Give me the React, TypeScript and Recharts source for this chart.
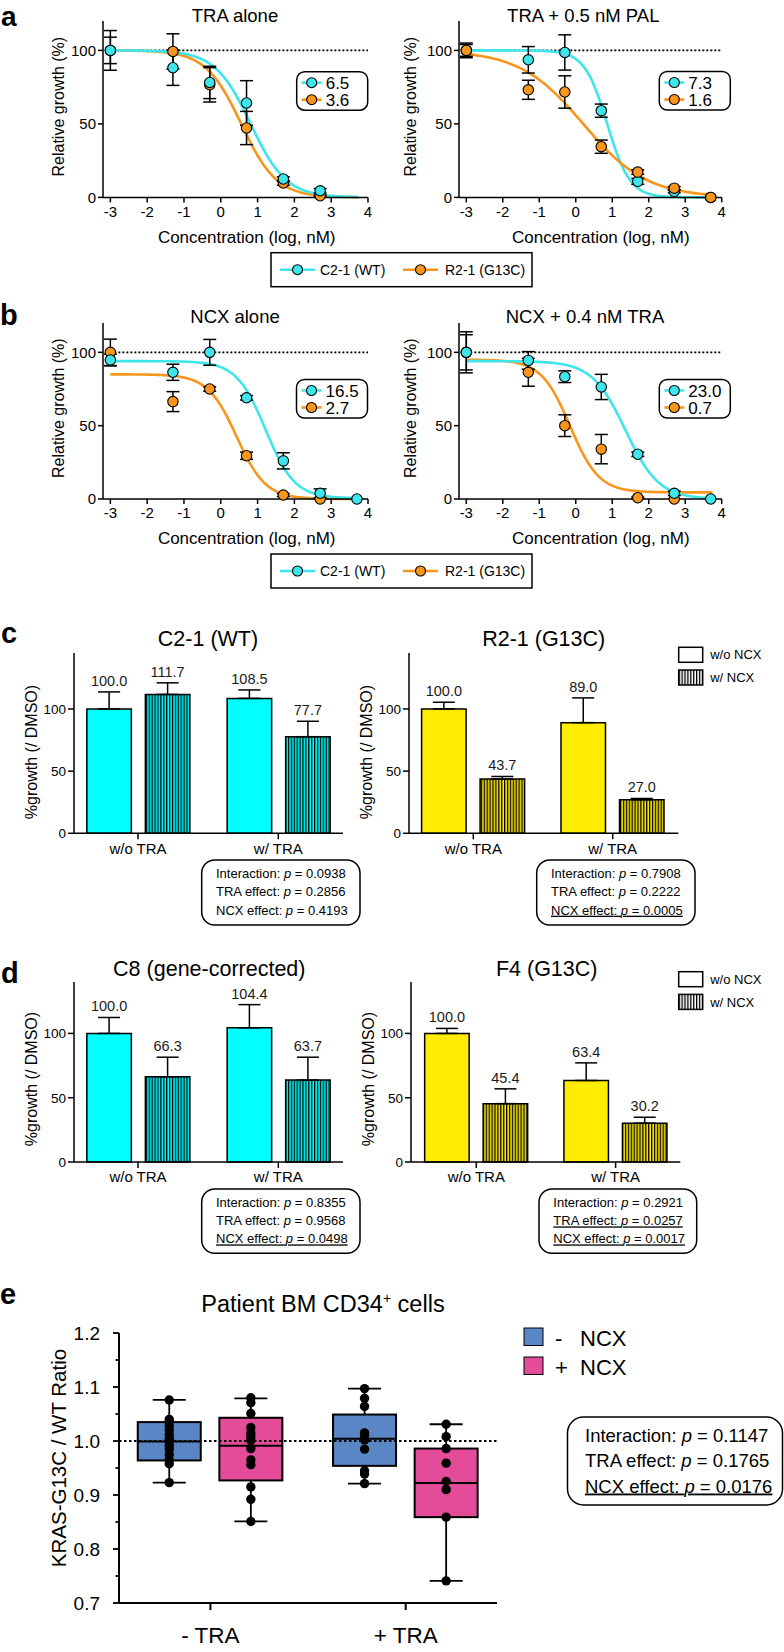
import React from 'react';
import {
  ComposedChart,
  Line,
  Scatter,
  Bar,
  XAxis,
  YAxis,
  ReferenceLine,
  ErrorBar,
  LabelList,
} from 'recharts';

const FONT = '"Liberation Sans", Arial, Helvetica, sans-serif';

// colours
const WT_COLOR = '#3EE6EC';
const MUT_COLOR = '#F7951D';
const BAR_CYAN = '#00FFFF';
const BAR_YELLOW = '#FFEC00';
const BOX_BLUE = '#5A86C5';
const BOX_PINK = '#E44C9A';

// ---------- panels a / b : dose-response ----------
const doseLog = [-3, -1.3, -0.3, 0.7, 1.7, 2.7, 3.7];
const doseTicks = [-3, -2, -1, 0, 1, 2, 3, 4];
const growthTicks = [0, 50, 100];
const seriesNames = ['C2-1 (WT)', 'R2-1 (G13C)'];

const traAloneWt = [100, 88.2, 78.2, 64.2, 12.5, 4.5, null];
const traAloneWtSd = [13.5, 12, 11, 15.2, 1.5, 1.5, null];
const traAloneMut = [100, 99.3, 76.6, 47.2, 9.8, 1.1, null];
const traAloneMutSd = [9, 12, 11.7, 11.3, 1.5, 0.5, null];

const traPalWt = [100, 93.6, 98.6, 59, 10.9, 4.1, 0];
const traPalWtSd = [5, 9, 12, 4.5, 2, 1, 0];
const traPalMut = [100, 73.2, 71.7, 34.5, 17.2, 6.3, 0];
const traPalMutSd = [4, 6.5, 11, 4.5, 1.5, 1, 0];

const ncxAloneWt = [94.8, 86.4, 100, 69, 26, 3.9, 0];
const ncxAloneWtSd = [4, 5.5, 8.8, 1.5, 5.5, 3, 0];
const ncxAloneMut = [100, 66.4, 75, 29.5, 2.7, 0, null];
const ncxAloneMutSd = [9, 6.8, 1.5, 2.5, 1, 0, null];

const ncxTraWt = [100, 94.5, 83.4, 76.4, 30.5, 3.9, 0];
const ncxTraWtSd = [14, 6, 4, 8.6, 1.5, 1.5, 0];
const ncxTraMut = [100, 86.4, 50, 34, 0.9, 0, null];
const ncxTraMutSd = [12, 9.5, 7.4, 10, 0.5, 0, null];

// four-parameter logistic fits: [IC50 (nM), top, bottom, Hill slope]
const traAloneWtFit = [6.5, 100, 0, -0.9];
const traAloneMutFit = [3.6, 100, 0, -0.9];
const traPalWtFit = [7.3, 100, 0, -1.4];
const traPalMutFit = [1.6, 100, 0, -0.5];
const ncxAloneWtFit = [16.5, 94, 0.5, -1.1];
const ncxAloneMutFit = [2.7, 85, 0, -1.1];
const ncxTraWtFit = [23.0, 94, 0, -0.95];
const ncxTraMutFit = [0.7, 95, 4.5, -1.1];

// ---------- panels c / d : bar charts ----------
const treatGroups = ['w/o TRA', 'w/ TRA'];
const c21NoNcx = [100.0, 108.5];
const c21NoNcxSd = [13.7, 6.8];
const c21Ncx = [111.7, 77.7];
const c21NcxSd = [9.3, 12.4];
const r21NoNcx = [100.0, 89.0];
const r21NoNcxSd = [5.4, 19.9];
const r21Ncx = [43.7, 27.0];
const r21NcxSd = [2.0, 1.0];
const c8NoNcx = [100.0, 104.4];
const c8NoNcxSd = [12.4, 18.0];
const c8Ncx = [66.3, 63.7];
const c8NcxSd = [15.2, 17.8];
const f4NoNcx = [100.0, 63.4];
const f4NoNcxSd = [3.9, 13.7];
const f4Ncx = [45.4, 30.2];
const f4NcxSd = [11.5, 4.6];

const statNames = ['Interaction', 'TRA effect', 'NCX effect'];
const c21Stats = ['0.0938', '0.2856', '0.4193'];
const r21Stats = ['0.7908', '0.2222', '0.0005'];
const c8Stats = ['0.8355', '0.9568', '0.0498'];
const f4Stats = ['0.2921', '0.0257', '0.0017'];
const eStats = ['0.1147', '0.1765', '0.0176'];

// ---------- panel e : box plots ----------
const boxGroups = ['- TRA', '+ TRA'];
const ratioTicks = [0.7, 0.75, 0.8, 0.85, 0.9, 0.95, 1.0, 1.05, 1.1, 1.15, 1.2];
// [min, Q1, median, Q3, max]
const noNcxSummary = [
  [0.923, 0.964, 0.999, 1.035, 1.076],
  [0.921, 0.954, 1.004, 1.049, 1.097],
];
const ncxSummary = [
  [0.851, 0.927, 0.991, 1.043, 1.079],
  [0.741, 0.859, 0.922, 0.986, 1.031],
];
const noNcxPoints = [
  [1.076, 1.04, 1.035, 1.028, 1.02, 1.012, 1.005, 1.0, 0.992, 0.985, 0.975, 0.965, 0.958, 0.923],
  [1.097, 1.079, 1.064, 1.015, 1.011, 1.002, 0.985, 0.945, 0.939, 0.921],
];
const ncxPoints = [
  [1.08, 1.071, 1.051, 1.025, 1.015, 1.008, 1.001, 0.986, 0.965, 0.956, 0.915, 0.892, 0.851],
  [1.031, 1.008, 0.986, 0.959, 0.925, 0.91, 0.859, 0.741],
];

// ---------- helpers ----------
const toPoints = (mean: (number | null)[], sd: (number | null)[]) =>
  doseLog
    .map((x, i) => (mean[i] == null ? null : { x, y: mean[i] as number, sd: (sd[i] ?? 0) as number }))
    .filter(Boolean) as { x: number; y: number; sd: number }[];

// logistic model evaluated along the plotted concentration range
const fitCurve = (fit: number[]) => {
  const [ic50, top, bottom, hill] = fit;
  const logIc50 = Math.log10(ic50);
  const out: { x: number; y: number }[] = [];
  for (let k = 0; k <= 135; k++) {
    const x = -3 + k * 0.05;
    out.push({ x, y: bottom + (top - bottom) / (1 + Math.pow(10, (logIc50 - x) * hill)) });
  }
  return out;
};

const axisStroke = { stroke: '#000', strokeWidth: 1.5 };

function DoseChart({ box, wt, wtSd, mut, mutSd, wtFit, mutFit, mutOnTop }: any) {
  const YW = 50, MT = 6, MR = 14, XH = 32;
  const W = box.x1 - box.x0 + YW + MR;
  const H = box.y1 - box.y0 + MT + XH;
  const dot = (color: string) => (p: any) => (
    <circle cx={p.cx} cy={p.cy} r={5.2} fill={color} stroke="#000" strokeWidth={1.1} />
  );
  const wtScatter = (
    <Scatter key="wt" name={seriesNames[0]} data={toPoints(wt, wtSd)} dataKey="y" shape={dot(WT_COLOR)} isAnimationActive={false}>
      <ErrorBar dataKey="sd" direction="y" width={6.5} stroke="#000" strokeWidth={1.5} />
    </Scatter>
  );
  const mutScatter = (
    <Scatter key="mut" name={seriesNames[1]} data={toPoints(mut, mutSd)} dataKey="y" shape={dot(MUT_COLOR)} isAnimationActive={false}>
      <ErrorBar dataKey="sd" direction="y" width={6.5} stroke="#000" strokeWidth={1.5} />
    </Scatter>
  );
  return (
    <div style={{ position: 'absolute', left: box.x0 - YW, top: box.y0 - MT }}>
      <ComposedChart width={W} height={H} margin={{ top: MT, right: MR, left: 0, bottom: 0 }}>
        <XAxis
          type="number"
          dataKey="x"
          domain={[-3.2, 4]}
          ticks={doseTicks}
          interval={0}
          height={XH}
          tickSize={5}
          tickMargin={3.5}
          axisLine={axisStroke}
          tickLine={axisStroke}
          tick={{ fontSize: 15, fill: '#000', fontFamily: FONT }}
        />
        <YAxis
          type="number"
          dataKey="y"
          domain={[0, 120]}
          ticks={growthTicks}
          interval={0}
          width={YW}
          tickSize={5}
          tickMargin={2}
          axisLine={axisStroke}
          tickLine={axisStroke}
          tick={{ fontSize: 15, fill: '#000', fontFamily: FONT }}
        />
        <ReferenceLine
          segment={[{ x: -3, y: 100 }, { x: 4, y: 100 }]}
          stroke="#000"
          strokeWidth={1.6}
          strokeDasharray="2 2"
        />
        {mutOnTop ? (
          <Line data={fitCurve(wtFit)} dataKey="y" type="linear" stroke={WT_COLOR} strokeWidth={2.6} dot={false} isAnimationActive={false} />
        ) : (
          <Line data={fitCurve(mutFit)} dataKey="y" type="linear" stroke={MUT_COLOR} strokeWidth={2.6} dot={false} isAnimationActive={false} />
        )}
        {mutOnTop ? (
          <Line data={fitCurve(mutFit)} dataKey="y" type="linear" stroke={MUT_COLOR} strokeWidth={2.6} dot={false} isAnimationActive={false} />
        ) : (
          <Line data={fitCurve(wtFit)} dataKey="y" type="linear" stroke={WT_COLOR} strokeWidth={2.6} dot={false} isAnimationActive={false} />
        )}
        {mutOnTop ? wtScatter : mutScatter}
        {mutOnTop ? mutScatter : wtScatter}
      </ComposedChart>
    </div>
  );
}

const valueLabel = (sds: number[]) => (p: any) => {
  const vb = p.viewBox || p;
  const x = vb.x ?? p.x;
  const y = vb.y ?? p.y;
  const w = vb.width ?? p.width;
  const h = vb.height ?? p.height;
  const v = Number(p.value);
  const top = Math.min(y, y + h);
  const pxPer = Math.abs(h) / v;
  const capY = top - sds[p.index] * pxPer;
  return (
    <text x={x + w / 2} y={capY - 6} textAnchor="middle" fontSize={14.5} fontFamily={FONT} fill="#1a1a1a">
      {v.toFixed(1)}
    </text>
  );
};

function BarPanel({ box, pad, yMax, noNcx, noNcxSd, ncx, ncxSd, solid, hatch }: any) {
  const YW = 50, MT = 6, MR = 10, XH = 40;
  const W = box.x1 - box.x0 + YW + MR;
  const H = box.y1 - box.y0 + MT + XH;
  const rows = treatGroups.map((g, i) => ({
    group: g,
    noNcx: noNcx[i],
    ncx: ncx[i],
    noNcxErr: [0, noNcxSd[i]],
    ncxErr: [0, ncxSd[i]],
  }));
  return (
    <div style={{ position: 'absolute', left: box.x0 - YW, top: box.y0 - MT }}>
      <ComposedChart width={W} height={H} data={rows} margin={{ top: MT, right: MR, left: 0, bottom: 0 }} barGap={14} barSize={44.5}>
        <XAxis
          dataKey="group"
          type="category"
          padding={pad}
          height={XH}
          tickSize={6}
          tickMargin={3.7}
          axisLine={axisStroke}
          tickLine={axisStroke}
          tick={{ fontSize: 15, fill: '#000', fontFamily: FONT }}
        />
        <YAxis
          type="number"
          domain={[0, yMax]}
          ticks={growthTicks}
          interval={0}
          width={YW}
          tickSize={6}
          tickMargin={2}
          axisLine={axisStroke}
          tickLine={axisStroke}
          tick={{ fontSize: 13.5, fill: '#000', fontFamily: FONT }}
        />
        <Bar dataKey="noNcx" fill={solid} stroke="#000" strokeWidth={1.5} barSize={44.5} isAnimationActive={false}>
          <ErrorBar dataKey="noNcxErr" direction="y" width={11} stroke="#000" strokeWidth={1.5} />
          <LabelList dataKey="noNcx" content={valueLabel(noNcxSd)} />
        </Bar>
        <Bar dataKey="ncx" fill={`url(#${hatch})`} stroke="#000" strokeWidth={1.5} barSize={44.5} isAnimationActive={false}>
          <ErrorBar dataKey="ncxErr" direction="y" width={11} stroke="#000" strokeWidth={1.5} />
          <LabelList dataKey="ncx" content={valueLabel(ncxSd)} />
        </Bar>
      </ComposedChart>
    </div>
  );
}

const makeBoxShape = (fill: string, summaryKey: string, pointsKey: string) => (p: any) => {
  const { x, y, width, height, payload } = p;
  const [min, q1, med, q3, max] = payload[summaryKey];
  const top = Math.min(y, y + height);
  const bot = Math.max(y, y + height);
  const k = (bot - top) / (max - min);
  const py = (v: number) => bot - (v - min) * k;
  const cx = x + width / 2;
  return (
    <g>
      <line x1={cx} x2={cx} y1={py(max)} y2={py(min)} stroke="#000" strokeWidth={1.8} />
      <line x1={cx - 16.5} x2={cx + 16.5} y1={py(max)} y2={py(max)} stroke="#000" strokeWidth={1.8} />
      <line x1={cx - 16.5} x2={cx + 16.5} y1={py(min)} y2={py(min)} stroke="#000" strokeWidth={1.8} />
      <rect x={x} y={py(q3)} width={width} height={py(q1) - py(q3)} fill={fill} stroke="#000" strokeWidth={2} />
      <line x1={x} x2={x + width} y1={py(med)} y2={py(med)} stroke="#000" strokeWidth={2} />
      {payload[pointsKey].map((v: number, i: number) => (
        <circle key={i} cx={cx} cy={py(v)} r={4.7} fill="#000" />
      ))}
    </g>
  );
};

const RatioTick = (p: any) => {
  const v = p.payload.value;
  const major = Math.abs(v * 10 - Math.round(v * 10)) < 1e-6;
  const axisX = p.x + 10;
  return (
    <g>
      <line x1={axisX - (major ? 6 : 3.5)} x2={axisX} y1={p.y} y2={p.y} stroke="#000" strokeWidth={1.8} />
      {major && (
        <text x={axisX - 19} y={p.y} dy="0.36em" textAnchor="end" fontSize={19} fontFamily={FONT} fill="#000">
          {v.toFixed(1)}
        </text>
      )}
    </g>
  );
};

function BoxPanel() {
  const box = { x0: 119.3, x1: 497.3, y0: 1332.7, y1: 1602.7 };
  const YW = 60, MT = 22, MR = 10, XH = 50;
  const W = box.x1 - box.x0 + YW + MR;
  const H = box.y1 - box.y0 + MT + XH;
  const rows = boxGroups.map((g, i) => ({
    group: g,
    noNcxRange: [noNcxSummary[i][0], noNcxSummary[i][4]],
    ncxRange: [ncxSummary[i][0], ncxSummary[i][4]],
    noNcxSummary: noNcxSummary[i],
    ncxSummary: ncxSummary[i],
    noNcxPoints: noNcxPoints[i],
    ncxPoints: ncxPoints[i],
  }));
  const ax = { stroke: '#000', strokeWidth: 2 };
  return (
    <div style={{ position: 'absolute', left: box.x0 - YW, top: box.y0 - MT }}>
      <ComposedChart width={W} height={H} data={rows} margin={{ top: MT, right: MR, left: 0, bottom: 0 }} barGap={18.6} barSize={63}>
        <XAxis
          dataKey="group"
          type="category"
          padding={{ left: -6.25, right: -6.35 }}
          height={XH}
          tickSize={7}
          tickMargin={17}
          axisLine={ax}
          tickLine={ax}
          tick={{ fontSize: 22.5, fill: '#000', fontFamily: FONT }}
        />
        <YAxis
          type="number"
          domain={[0.7, 1.2]}
          ticks={ratioTicks}
          interval={0}
          width={YW}
          tickSize={6}
          tickMargin={4}
          axisLine={ax}
          tickLine={{ stroke: 'none' }}
          tick={<RatioTick />}
        />
        <ReferenceLine y={1} stroke="#000" strokeWidth={2} strokeDasharray="2.5 2.5" />
        <Bar dataKey="noNcxRange" barSize={63} shape={makeBoxShape(BOX_BLUE, 'noNcxSummary', 'noNcxPoints')} isAnimationActive={false} />
        <Bar dataKey="ncxRange" barSize={63} shape={makeBoxShape(BOX_PINK, 'ncxSummary', 'ncxPoints')} isAnimationActive={false} />
      </ComposedChart>
    </div>
  );
}

// ---------- annotation layer ----------
const Txt = ({ x, y, size, anchor = 'start', weight, children, ...rest }: any) => (
  <text x={x} y={y} fontSize={size} textAnchor={anchor} fontWeight={weight} fontFamily={FONT} fill="#000" {...rest}>
    {children}
  </text>
);

const VLabel = ({ x, y, size, children }: any) => (
  <text
    transform={`translate(${x},${y}) rotate(-90)`}
    textAnchor="middle"
    dominantBaseline="central"
    fontSize={size}
    fontFamily={FONT}
    fill="#000"
  >
    {children}
  </text>
);

function FitLegend({ x, y, wtFit, mutFit }: any) {
  return (
    <g>
      <rect x={x} y={y} width={71} height={38.5} rx={8} fill="#fff" stroke="#000" strokeWidth={1.5} />
      {[
        [WT_COLOR, wtFit],
        [MUT_COLOR, mutFit],
      ].map(([c, fit]: any, i) => {
        const ry = y + 11 + i * 17;
        return (
          <g key={i}>
            <line x1={x + 5} x2={x + 25} y1={ry} y2={ry} stroke={c} strokeWidth={2.6} />
            <circle cx={x + 15} cy={ry} r={5} fill={c} stroke="#000" strokeWidth={1.1} />
            <Txt x={x + 29} y={ry} size={17} dy="0.36em">
              {fit[0].toFixed(1)}
            </Txt>
          </g>
        );
      })}
    </g>
  );
}

function SeriesLegend({ y }: any) {
  const cy = y + 17;
  return (
    <g>
      <rect x={271} y={y} width={261} height={34} fill="#fff" stroke="#000" strokeWidth={1.5} />
      <line x1={280} x2={315} y1={cy} y2={cy} stroke={WT_COLOR} strokeWidth={2.6} />
      <circle cx={297.5} cy={cy} r={5} fill={WT_COLOR} stroke="#000" strokeWidth={1.1} />
      <Txt x={320} y={cy} size={14} dy="0.36em">{seriesNames[0]}</Txt>
      <line x1={403} x2={438} y1={cy} y2={cy} stroke={MUT_COLOR} strokeWidth={2.6} />
      <circle cx={420.5} cy={cy} r={5} fill={MUT_COLOR} stroke="#000" strokeWidth={1.1} />
      <Txt x={445} y={cy} size={14} dy="0.36em">{seriesNames[1]}</Txt>
    </g>
  );
}

function StatsBox({ x, y, w, h, r, pvals, size, tx, rows }: any) {
  return (
    <g>
      <rect x={x} y={y} width={w} height={h} rx={r} fill="#fff" stroke="#000" strokeWidth={1.5} />
      {statNames.map((name, i) => (
        <Txt
          key={i}
          x={tx}
          y={rows[i]}
          size={size}
          textDecoration={parseFloat(pvals[i]) < 0.05 ? 'underline' : undefined}
        >
          {name}: <tspan fontStyle="italic">p</tspan> = {pvals[i]}
        </Txt>
      ))}
    </g>
  );
}

function NcxKey({ x, y }: any) {
  return (
    <g>
      <rect x={x} y={y} width={24} height={15} fill="#fff" stroke="#000" strokeWidth={1.5} />
      <Txt x={x + 31.5} y={y + 7.5} size={13} dy="0.36em">w/o NCX</Txt>
      <rect x={x} y={y + 22.7} width={24} height={15} fill="url(#hatchBW)" stroke="#000" strokeWidth={1.5} />
      <Txt x={x + 31.5} y={y + 30.2} size={13} dy="0.36em">w/ NCX</Txt>
    </g>
  );
}

function Annotations() {
  return (
    <svg width={784} height={1652} style={{ position: 'absolute', left: 0, top: 0, pointerEvents: 'none' }}>
      {/* panel letters */}
      <Txt x={1} y={26} size={28} weight="bold">a</Txt>
      <Txt x={0} y={325} size={29} weight="bold">b</Txt>
      <Txt x={1} y={643.3} size={29} weight="bold">c</Txt>
      <Txt x={1} y={982.7} size={29} weight="bold">d</Txt>
      <Txt x={0} y={1304} size={29} weight="bold">e</Txt>

      {/* a */}
      <Txt x={235} y={21.7} size={18.5} anchor="middle">TRA alone</Txt>
      <Txt x={583.3} y={21.7} size={18.5} anchor="middle">TRA + 0.5 nM PAL</Txt>
      <VLabel x={58.3} y={106.7} size={16}>Relative growth (%)</VLabel>
      <VLabel x={410} y={106.7} size={16}>Relative growth (%)</VLabel>
      <Txt x={246.7} y={237} size={17} anchor="middle" dominantBaseline="central">Concentration (log, nM)</Txt>
      <Txt x={600.8} y={237} size={17} anchor="middle" dominantBaseline="central">Concentration (log, nM)</Txt>
      <FitLegend x={296.7} y={71.7} wtFit={traAloneWtFit} mutFit={traAloneMutFit} />
      <FitLegend x={659.3} y={71.5} wtFit={traPalWtFit} mutFit={traPalMutFit} />
      <SeriesLegend y={252.7} />

      {/* b */}
      <Txt x={235} y={323.3} size={18.5} anchor="middle">NCX alone</Txt>
      <Txt x={585} y={323.3} size={18.5} anchor="middle">NCX + 0.4 nM TRA</Txt>
      <VLabel x={58.3} y={408.2} size={16}>Relative growth (%)</VLabel>
      <VLabel x={410} y={408.2} size={16}>Relative growth (%)</VLabel>
      <Txt x={246.7} y={538.3} size={17} anchor="middle" dominantBaseline="central">Concentration (log, nM)</Txt>
      <Txt x={600.8} y={538.3} size={17} anchor="middle" dominantBaseline="central">Concentration (log, nM)</Txt>
      <FitLegend x={296.5} y={379.5} wtFit={ncxAloneWtFit} mutFit={ncxAloneMutFit} />
      <FitLegend x={659.3} y={379.5} wtFit={ncxTraWtFit} mutFit={ncxTraMutFit} />
      <SeriesLegend y={554} />

      {/* c */}
      <Txt x={208} y={646} size={21.5} anchor="middle">C2-1 (WT)</Txt>
      <Txt x={543.7} y={646} size={21.5} anchor="middle">R2-1 (G13C)</Txt>
      <VLabel x={31.7} y={752} size={16}>%growth (/ DMSO)</VLabel>
      <VLabel x={366.7} y={752} size={16}>%growth (/ DMSO)</VLabel>
      <NcxKey x={678.7} y={647.3} />
      <StatsBox x={201.7} y={860} w={158.3} h={65} r={13} pvals={c21Stats} size={13} tx={216} rows={[878, 896.4, 914.7]} />
      <StatsBox x={536.7} y={860} w={158.3} h={65} r={13} pvals={r21Stats} size={13} tx={551} rows={[878, 896.4, 914.7]} />

      {/* d */}
      <Txt x={209.3} y={976} size={21.5} anchor="middle">C8 (gene-corrected)</Txt>
      <Txt x={546.7} y={976} size={21.5} anchor="middle">F4 (G13C)</Txt>
      <VLabel x={31.7} y={1079} size={16}>%growth (/ DMSO)</VLabel>
      <VLabel x={368.3} y={1079} size={16}>%growth (/ DMSO)</VLabel>
      <NcxKey x={678.7} y={971.7} />
      <StatsBox x={201.7} y={1189} w={158.3} h={64.3} r={13} pvals={c8Stats} size={13} tx={216} rows={[1207, 1225.4, 1243.4]} />
      <StatsBox x={539} y={1189} w={157.7} h={64.3} r={13} pvals={f4Stats} size={13} tx={553.3} rows={[1207, 1225.4, 1243.4]} />

      {/* e */}
      <Txt x={323} y={1311.7} size={23.5} anchor="middle">
        Patient BM CD34
        <tspan fontSize={14} dy={-9}>+</tspan>
        <tspan dy={9}> cells</tspan>
      </Txt>
      <VLabel x={58.3} y={1458} size={20.5}>KRAS-G13C / WT Ratio</VLabel>
      <rect x={524} y={1328} width={19} height={17.5} fill={BOX_BLUE} stroke="#000" strokeWidth={1} />
      <Txt x={555} y={1345.5} size={22}>-</Txt>
      <Txt x={580} y={1345.5} size={22}>NCX</Txt>
      <rect x={524} y={1357} width={19} height={17.5} fill={BOX_PINK} stroke="#000" strokeWidth={1} />
      <Txt x={555} y={1374.5} size={22}>+</Txt>
      <Txt x={580} y={1374.5} size={22}>NCX</Txt>
      <StatsBox x={567.5} y={1417} w={215} h={88} r={16} pvals={eStats} size={18.5} tx={585} rows={[1441.5, 1467, 1492.5]} />
    </svg>
  );
}

function PatternDefs() {
  return (
    <svg width={0} height={0} style={{ position: 'absolute' }}>
      <defs>
        <pattern id="hatchCyan" width={2.9} height={10} patternUnits="userSpaceOnUse">
          <rect width={2.9} height={10} fill={BAR_CYAN} />
          <rect width={1.3} height={10} fill="#000" />
        </pattern>
        <pattern id="hatchYellow" width={2.9} height={10} patternUnits="userSpaceOnUse">
          <rect width={2.9} height={10} fill={BAR_YELLOW} />
          <rect width={1.3} height={10} fill="#000" />
        </pattern>
        <pattern id="hatchBW" width={2.9} height={10} patternUnits="userSpaceOnUse">
          <rect width={2.9} height={10} fill="#fff" />
          <rect width={1.3} height={10} fill="#000" />
        </pattern>
      </defs>
    </svg>
  );
}

export default function App() {
  const aLeft = { x0: 102.7, x1: 367.7, y0: 21.3, y1: 197.7 };
  const aRight = { x0: 459, x1: 721.7, y0: 21.3, y1: 197.7 };
  const bLeft = { x0: 102.7, x1: 367.7, y0: 323, y1: 499 };
  const bRight = { x0: 459, x1: 721.7, y0: 323, y1: 499 };
  return (
    <div
      style={{
        position: 'absolute',
        left: 0,
        top: 0,
        width: 784,
        height: 1652,
        background: '#fff',
        overflow: 'hidden',
        fontFamily: FONT,
      }}
    >
      <PatternDefs />
      <DoseChart box={aLeft} wt={traAloneWt} wtSd={traAloneWtSd} mut={traAloneMut} mutSd={traAloneMutSd} wtFit={traAloneWtFit} mutFit={traAloneMutFit} mutOnTop={false} />
      <DoseChart box={aRight} wt={traPalWt} wtSd={traPalWtSd} mut={traPalMut} mutSd={traPalMutSd} wtFit={traPalWtFit} mutFit={traPalMutFit} mutOnTop={true} />
      <DoseChart box={bLeft} wt={ncxAloneWt} wtSd={ncxAloneWtSd} mut={ncxAloneMut} mutSd={ncxAloneMutSd} wtFit={ncxAloneWtFit} mutFit={ncxAloneMutFit} mutOnTop={false} />
      <DoseChart box={bRight} wt={ncxTraWt} wtSd={ncxTraWtSd} mut={ncxTraMut} mutSd={ncxTraMutSd} wtFit={ncxTraWtFit} mutFit={ncxTraMutFit} mutOnTop={false} />

      <BarPanel box={{ x0: 74, x1: 343, y0: 653, y1: 833.3 }} pad={{ left: -6.15, right: -5.45 }} yMax={145} noNcx={c21NoNcx} noNcxSd={c21NoNcxSd} ncx={c21Ncx} ncxSd={c21NcxSd} solid={BAR_CYAN} hatch="hatchCyan" />
      <BarPanel box={{ x0: 409, x1: 678.3, y0: 653, y1: 833.3 }} pad={{ left: -5.4, right: -4.1 }} yMax={145} noNcx={r21NoNcx} noNcxSd={r21NoNcxSd} ncx={r21Ncx} ncxSd={r21NcxSd} solid={BAR_YELLOW} hatch="hatchYellow" />
      <BarPanel box={{ x0: 74, x1: 343, y0: 981.7, y1: 1161.7 }} pad={{ left: -6.15, right: -5.45 }} yMax={140} noNcx={c8NoNcx} noNcxSd={c8NoNcxSd} ncx={c8Ncx} ncxSd={c8NcxSd} solid={BAR_CYAN} hatch="hatchCyan" />
      <BarPanel box={{ x0: 410.7, x1: 680, y0: 981.7, y1: 1161.7 }} pad={{ left: -4.35, right: -4.95 }} yMax={140} noNcx={f4NoNcx} noNcxSd={f4NoNcxSd} ncx={f4Ncx} ncxSd={f4NcxSd} solid={BAR_YELLOW} hatch="hatchYellow" />

      <BoxPanel />
      <Annotations />
    </div>
  );
}
